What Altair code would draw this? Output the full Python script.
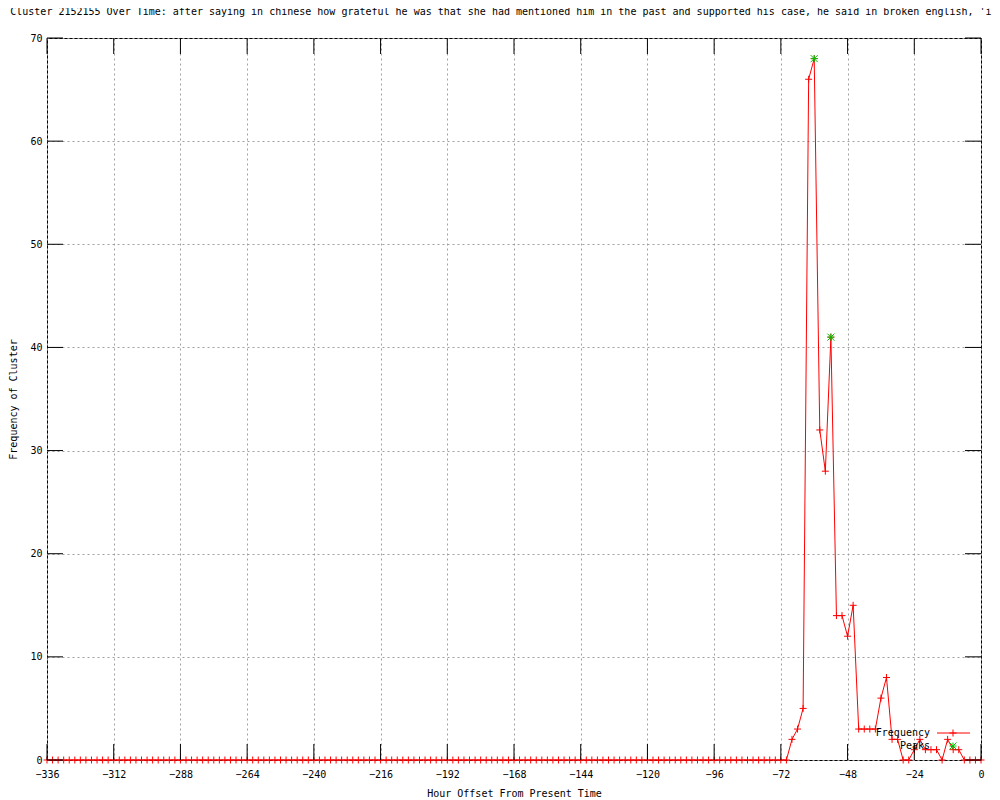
import altair as alt
import pandas as pd

# ---------------- data ----------------
hours = list(range(-336, 1, 2))  # sampled every 2 hours

frequency = [
    0, 0, 0, 0, 0, 0, 0, 0, 0, 0, 0, 0, 0, 0, 0, 0, 0, 0, 0, 0,
    0, 0, 0, 0, 0, 0, 0, 0, 0, 0, 0, 0, 0, 0, 0, 0, 0, 0, 0, 0,
    0, 0, 0, 0, 0, 0, 0, 0, 0, 0, 0, 0, 0, 0, 0, 0, 0, 0, 0, 0,
    0, 0, 0, 0, 0, 0, 0, 0, 0, 0, 0, 0, 0, 0, 0, 0, 0, 0, 0, 0,
    0, 0, 0, 0, 0, 0, 0, 0, 0, 0, 0, 0, 0, 0, 0, 0, 0, 0, 0, 0,
    0, 0, 0, 0, 0, 0, 0, 0, 0, 0, 0, 0, 0, 0, 0, 0, 0, 0, 0, 0,
    0, 0, 0, 0, 0, 0, 0, 0, 0, 0, 0, 0, 0, 0,
    # -68 .. 0
    2, 3, 5, 66, 68, 32, 28, 41, 14, 14, 12, 15, 3, 3, 3, 3, 6, 8,
    2, 2, 0, 0, 1, 2, 1, 1, 1, 0, 2, 1, 1, 0, 0, 0, 0,
]
assert len(frequency) == len(hours)

peak_hours = [-60, -54]
peak_values = [68, 41]

x_ticks = [-336, -312, -288, -264, -240, -216, -192, -168, -144, -120, -96, -72, -48, -24, 0]
y_ticks = [0, 10, 20, 30, 40, 50, 60, 70]

title_text = ("Frequency of Cluster 2152155 Over Time: after saying in chinese how grateful "
              "he was that she had mentioned him in the past and supported his case, "
              "he said in broken english, 'i w")
legend_labels = ["Frequency", "Peaks"]
x_title = "Hour Offset From Present Time"
y_title = "Frequency of Cluster"

# ---------------- layout ----------------
W, H = 934, 722
FONT = "DejaVu Sans Mono"
TICK = 16
CROSS = "M-1,0L1,0M0,-1L0,1"
STAR = "M-1,0L1,0M0,-1L0,1M-1,-1L1,1M-1,1L1,-1"

df = pd.DataFrame({"hour": hours, "freq": frequency})
peaks_df = pd.DataFrame({"hour": peak_hours, "freq": peak_values})
xt_df = pd.DataFrame({"t": x_ticks})
yt_df = pd.DataFrame({"t": y_ticks})

xscale = alt.Scale(domain=[-336, 0], nice=False, zero=False)
yscale = alt.Scale(domain=[0, 70], nice=False, zero=False)

x_enc = alt.X(
    "hour:Q", scale=xscale,
    axis=alt.Axis(values=x_ticks, format="d", title=x_title, grid=True,
                  labelPadding=9, labelFlush=False,
                  titleX=W / 2, titleY=33, titleAlign="center", titleBaseline="middle"),
)
y_enc = alt.Y(
    "freq:Q", scale=yscale,
    axis=alt.Axis(values=y_ticks, format="d", title=y_title, grid=True,
                  labelPadding=5, labelFlush=False,
                  titleX=-34, titleY=H / 2, titleAngle=270,
                  titleAlign="center", titleBaseline="middle"),
)

line = alt.Chart(df).mark_line(color="red", strokeWidth=1).encode(x=x_enc, y=y_enc)
pts = alt.Chart(df).mark_point(shape=CROSS, size=49, color="red", strokeWidth=1,
                               filled=False, opacity=1).encode(x="hour:Q", y="freq:Q")
peaks = alt.Chart(peaks_df).mark_point(shape=STAR, size=49, color="#00c000", strokeWidth=1,
                                       filled=False, opacity=1).encode(x="hour:Q", y="freq:Q")

# inward ticks on all four borders
xt_bottom = alt.Chart(xt_df).mark_rule(color="black", strokeWidth=1).encode(
    x=alt.X("t:Q", scale=xscale), y=alt.value(H), y2=alt.value(H - TICK))
xt_top = alt.Chart(xt_df).mark_rule(color="black", strokeWidth=1).encode(
    x=alt.X("t:Q", scale=xscale), y=alt.value(0), y2=alt.value(TICK))
yt_left = alt.Chart(yt_df).mark_rule(color="black", strokeWidth=1).encode(
    y=alt.Y("t:Q", scale=yscale), x=alt.value(0), x2=alt.value(TICK))
yt_right = alt.Chart(yt_df).mark_rule(color="black", strokeWidth=1).encode(
    y=alt.Y("t:Q", scale=yscale), x=alt.value(W), x2=alt.value(W - TICK))

# title (overflowing the page, as in the reference)
title_df = pd.DataFrame({"label": [title_text]})
title = alt.Chart(title_df).mark_text(font=FONT, fontSize=10, align="left", baseline="middle",
                                      color="black").encode(
    text="label:N", x=alt.value(-115), y=alt.value(-26))

# legend (gnuplot style, labels left of samples)
leg_df = pd.DataFrame({"label": legend_labels})
leg_text1 = alt.Chart(leg_df).transform_filter(alt.datum.label == legend_labels[0]).mark_text(
    font=FONT, fontSize=10, align="right", baseline="middle", color="black").encode(
    text="label:N", x=alt.value(883), y=alt.value(695))
leg_text2 = alt.Chart(leg_df).transform_filter(alt.datum.label == legend_labels[1]).mark_text(
    font=FONT, fontSize=10, align="right", baseline="middle", color="black").encode(
    text="label:N", x=alt.value(883), y=alt.value(708))
leg_line = alt.Chart(leg_df).transform_filter(alt.datum.label == legend_labels[0]).mark_rule(
    color="red", strokeWidth=1).encode(x=alt.value(890), x2=alt.value(923), y=alt.value(695))
leg_cross = alt.Chart(leg_df).transform_filter(alt.datum.label == legend_labels[0]).mark_point(
    shape=CROSS, size=49, color="red", strokeWidth=1, filled=False, opacity=1).encode(
    x=alt.value(906), y=alt.value(695))
leg_star = alt.Chart(leg_df).transform_filter(alt.datum.label == legend_labels[1]).mark_point(
    shape=STAR, size=49, color="#00c000", strokeWidth=1, filled=False, opacity=1).encode(
    x=alt.value(906), y=alt.value(708))

chart = alt.layer(
    line, pts, peaks, xt_bottom, xt_top, yt_left, yt_right,
    leg_text1, leg_text2, leg_line, leg_cross, leg_star, title,
).properties(
    width=W, height=H,
    autosize=alt.AutoSizeParams(type="none"),
    padding={"left": 39, "top": 30, "right": 11, "bottom": 40},
    background="white",
).configure_view(
    stroke="black", strokeWidth=1,
).configure_axis(
    ticks=False, domain=False,
    gridColor="#a0a0a0", gridDash=[2, 3], gridWidth=1, gridOpacity=1,
    labelFont=FONT, labelFontSize=10, labelColor="black",
    titleFont=FONT, titleFontSize=10, titleFontWeight="normal", titleColor="black",
)

chart.save("out.html", embed_options={"renderer": "svg", "actions": False})
